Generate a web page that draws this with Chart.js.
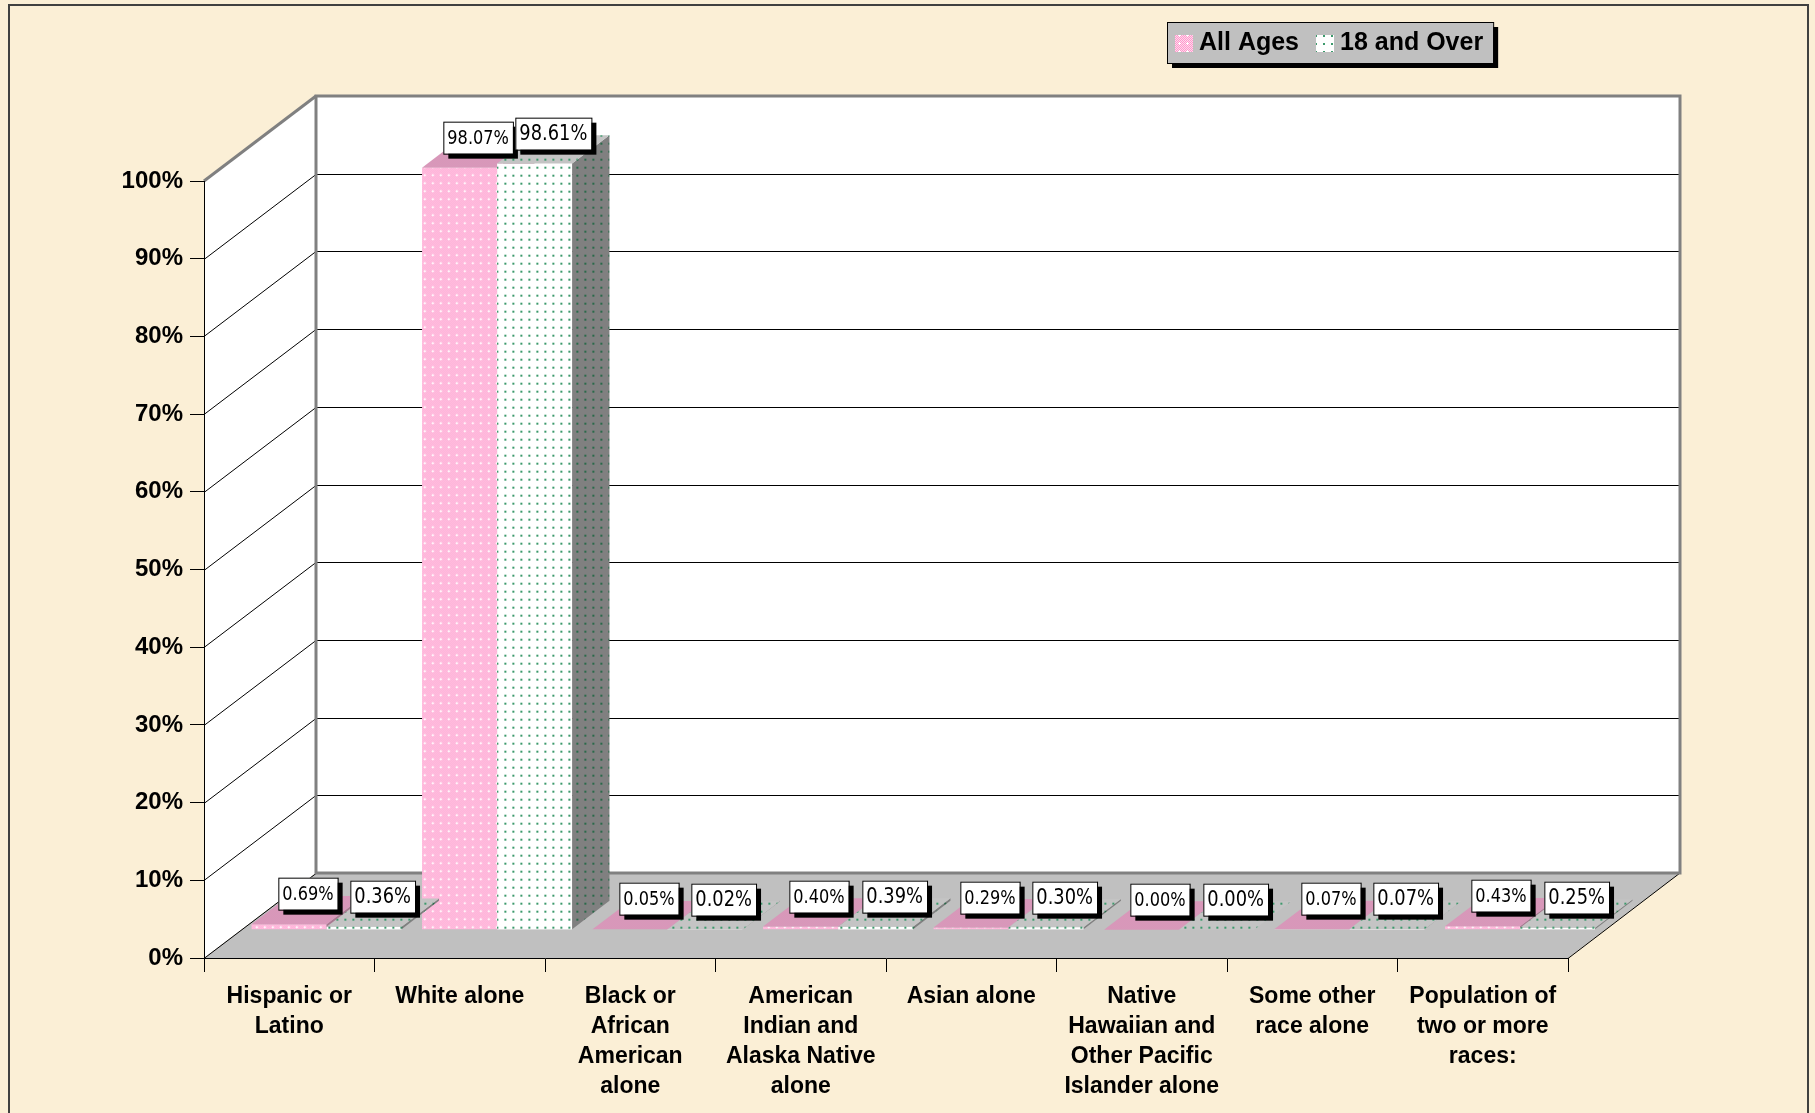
<!DOCTYPE html>
<html>
<head>
<meta charset="utf-8">
<script src="https://cdn.jsdelivr.net/npm/chart.js@4.4.1/dist/chart.umd.min.js"></script>
<style>
  html, body { margin: 0; padding: 0; background: #fbefd6; }
  #wrap { width: 1815px; height: 1113px; }
</style>
</head>
<body>
<div id="wrap"><canvas id="chart" width="1815" height="1113"></canvas></div>
<script>
// --- data ---
const categories = [
  ['Hispanic or', 'Latino'],
  ['White alone'],
  ['Black or', 'African', 'American', 'alone'],
  ['American', 'Indian and', 'Alaska Native', 'alone'],
  ['Asian alone'],
  ['Native', 'Hawaiian and', 'Other Pacific', 'Islander alone'],
  ['Some other', 'race alone'],
  ['Population of', 'two or more', 'races:']
];
const seriesNames = ['All Ages', '18 and Over'];
const allAges = [0.69, 98.07, 0.05, 0.40, 0.29, 0.00, 0.07, 0.43];
const over18 = [0.36, 98.61, 0.02, 0.39, 0.30, 0.00, 0.07, 0.25];
const yTickValues = [0, 10, 20, 30, 40, 50, 60, 70, 80, 90, 100];

// --- 3d look ---
const DX = 112, DY = 85;            // depth of the floor
const BDX = DX / 3, BDY = DY / 3;   // bars sit in the middle third
const FONT = '"Liberation Sans", Arial, sans-serif';
const LABEL_FONT = '"DejaVu Sans", Verdana, sans-serif';

const canvas = document.getElementById('chart');
const ctx = canvas.getContext('2d');

function makePattern(base, alt, dot, plus) {
  const c = document.createElement('canvas');
  c.width = c.height = 8;
  const g = c.getContext('2d');
  for (let y = 0; y < 8; y++) {
    for (let x = 0; x < 8; x++) {
      g.fillStyle = alt && (x + y) % 2 ? alt : base;
      g.fillRect(x, y, 1, 1);
    }
  }
  if (dot) {
    g.fillStyle = dot;
    g.fillRect(3, 3, 2, 2);
  }
  if (plus) {
    g.fillStyle = plus;
    g.fillRect(3, 2, 1, 3);
    g.fillRect(2, 3, 3, 1);
  }
  return ctx.createPattern(c, 'repeat');
}

const pinkFront = makePattern('#ff99cc', '#ffd8ec', null, '#ffffff');
const pinkTop = makePattern('#e98cbc', '#c8a4b8', null, null);
const pinkSide = makePattern('#b87898', '#9a7a8a', null, null);
const greenFront = makePattern('#ffffff', null, '#3c9a6c', null);
const greenTop = makePattern('#c4c4c4', null, '#3c9a6c', null);
const greenSide = makePattern('#808080', null, '#2a6a4a', null);

const faceStyles = [
  { top: pinkTop, side: pinkSide, font: '19px ' + LABEL_FONT },
  { top: greenTop, side: greenSide, font: '21px ' + LABEL_FONT }
];

function poly(c, pts, fill) {
  c.beginPath();
  c.moveTo(pts[0][0], pts[0][1]);
  for (let i = 1; i < pts.length; i++) c.lineTo(pts[i][0], pts[i][1]);
  c.closePath();
  c.fillStyle = fill;
  c.fill();
}

function drawFaces(c, meta, style) {
  meta.data.forEach(el => {
    const { x, y, base, width } = el.getProps(['x', 'y', 'base', 'width'], true);
    const l = x - width / 2, r = x + width / 2;
    poly(c, [[r, y], [r + BDX, y - BDY], [r + BDX, base - BDY], [r, base]], style.side);
    poly(c, [[l, y], [r, y], [r + BDX, y - BDY], [l + BDX, y - BDY]], style.top);
  });
}

// label text is narrower than DejaVu Sans, so squeeze it a little
const SQUEEZE = 0.85;

function drawLabel(c, text, cx, bottom, font) {
  c.font = font;
  const w = c.measureText(text).width * SQUEEZE + 8;
  const h = 32;
  const x = Math.round(cx - w / 2), y = Math.round(bottom - h);
  c.fillStyle = '#000';
  c.fillRect(x + 5, y + 5, w, h);
  c.fillStyle = '#fff';
  c.fillRect(x, y, w, h);
  c.strokeStyle = '#000';
  c.lineWidth = 1;
  c.strokeRect(x + 0.5, y + 0.5, w, h);
  c.save();
  c.translate(x + w / 2, y + h / 2 + 1);
  c.scale(SQUEEZE, 1);
  c.fillStyle = '#000';
  c.textAlign = 'center';
  c.textBaseline = 'middle';
  c.fillText(text, 0, 0);
  c.restore();
}

const scene = {
  id: 'scene',
  beforeDraw(chart) {
    const c = chart.ctx;
    const { left, right, top, bottom } = chart.chartArea;
    c.save();
    c.fillStyle = '#fbefd6';
    c.fillRect(0, 0, chart.width, chart.height);
    c.strokeStyle = '#404040';
    c.lineWidth = 2;
    c.strokeRect(9, 5, 1799, 1200);

    // back wall and left wall
    c.fillStyle = '#fff';
    c.fillRect(left + DX, top - DY, right - left, bottom - top);
    poly(c, [[left, top], [left + DX, top - DY], [left + DX, bottom - DY], [left, bottom]], '#fff');
    // floor
    poly(c, [[left, bottom], [right, bottom], [right + DX, bottom - DY], [left + DX, bottom - DY]], '#c0c0c0');

    const ys = chart.scales.y;
    c.strokeStyle = '#000';
    c.lineWidth = 1;
    yTickValues.forEach(v => {
      const py = Math.round(ys.getPixelForValue(v)) + 0.5;
      c.beginPath();
      c.moveTo(left, py);
      c.lineTo(left + DX, py - DY);
      if (v > 0 && v < 100) c.lineTo(right + DX, py - DY);
      c.stroke();
    });
    c.beginPath();
    c.moveTo(right, bottom + 0.5);
    c.lineTo(right + DX, bottom - DY);
    c.stroke();

    c.strokeStyle = '#808080';
    c.lineWidth = 3;
    c.strokeRect(left + DX, top - DY, right - left, bottom - top);
    c.beginPath();
    c.moveTo(left, top);
    c.lineTo(left + DX, top - DY);
    c.stroke();
    c.restore();
  },
  beforeDatasetsDraw(chart) {
    chart.ctx.save();
    chart.ctx.translate(BDX, -BDY);
  },
  afterDatasetsDraw(chart) {
    const c = chart.ctx;
    const m0 = chart.getDatasetMeta(0), m1 = chart.getDatasetMeta(1);
    drawFaces(c, m0, faceStyles[0]);
    m1.data.forEach(el => el.draw(c));
    drawFaces(c, m1, faceStyles[1]);
    [m0, m1].forEach((meta, i) => {
      const vals = chart.data.datasets[i].data;
      meta.data.forEach((el, j) => {
        drawLabel(c, vals[j].toFixed(2) + '%', el.x + BDX / 2, el.y - BDY / 2, faceStyles[i].font);
      });
    });
    c.restore();
  },
  afterDraw(chart) {
    const c = chart.ctx;
    c.save();
    c.font = 'bold 25px ' + FONT;
    const bx = 1167, by = 22, bh = 41;
    const w1 = c.measureText(seriesNames[0]).width;
    const w2 = c.measureText(seriesNames[1]).width;
    const bw = 8 + 18 + 6 + w1 + 17 + 18 + 6 + w2 + 10;
    c.fillStyle = '#000';
    c.fillRect(bx + 5, by + 5, bw, bh);
    c.fillStyle = '#c0c0c0';
    c.fillRect(bx, by, bw, bh);
    c.strokeStyle = '#000';
    c.lineWidth = 1;
    c.strokeRect(bx + 0.5, by + 0.5, bw, bh);
    const fills = [pinkFront, greenFront];
    let x = bx + 8;
    [w1, w2].forEach((w, i) => {
      c.fillStyle = fills[i];
      c.fillRect(x, by + 13, 18, 17);
      x += 24;
      c.fillStyle = '#000';
      c.textAlign = 'left';
      c.textBaseline = 'middle';
      c.fillText(seriesNames[i], x, by + bh / 2 + 1);
      x += w + 17;
    });
    c.restore();
  }
};

new Chart(ctx, {
  type: 'bar',
  data: {
    labels: categories,
    datasets: [
      { label: seriesNames[0], data: allAges, backgroundColor: pinkFront, categoryPercentage: 0.88, barPercentage: 1, clip: false },
      { label: seriesNames[1], data: over18, backgroundColor: greenFront, categoryPercentage: 0.88, barPercentage: 1, clip: false }
    ]
  },
  options: {
    responsive: false,
    animation: false,
    layout: { padding: { left: 0, top: 181, right: 247, bottom: 0 } },
    plugins: { legend: { display: false }, tooltip: { enabled: false } },
    scales: {
      x: {
        grid: { drawOnChartArea: false, tickLength: 14, color: '#000', offset: true },
        border: { display: true, color: '#000', width: 1 },
        ticks: {
          color: '#000', padding: 10, maxRotation: 0, autoSkip: false,
          font: { family: FONT, size: 23, weight: 'bold', lineHeight: 1.3 }
        },
        afterFit: s => { s.height = 155; }
      },
      y: {
        min: 0, max: 100,
        grid: { drawOnChartArea: false, tickLength: 14, color: '#000' },
        border: { display: true, color: '#000', width: 1 },
        ticks: {
          stepSize: 10, color: '#000', padding: 7,
          callback: v => v + '%',
          font: { family: FONT, size: 24, weight: 'bold' }
        },
        afterFit: s => { s.width = 204; }
      }
    }
  },
  plugins: [scene]
});
</script>
</body>
</html>
